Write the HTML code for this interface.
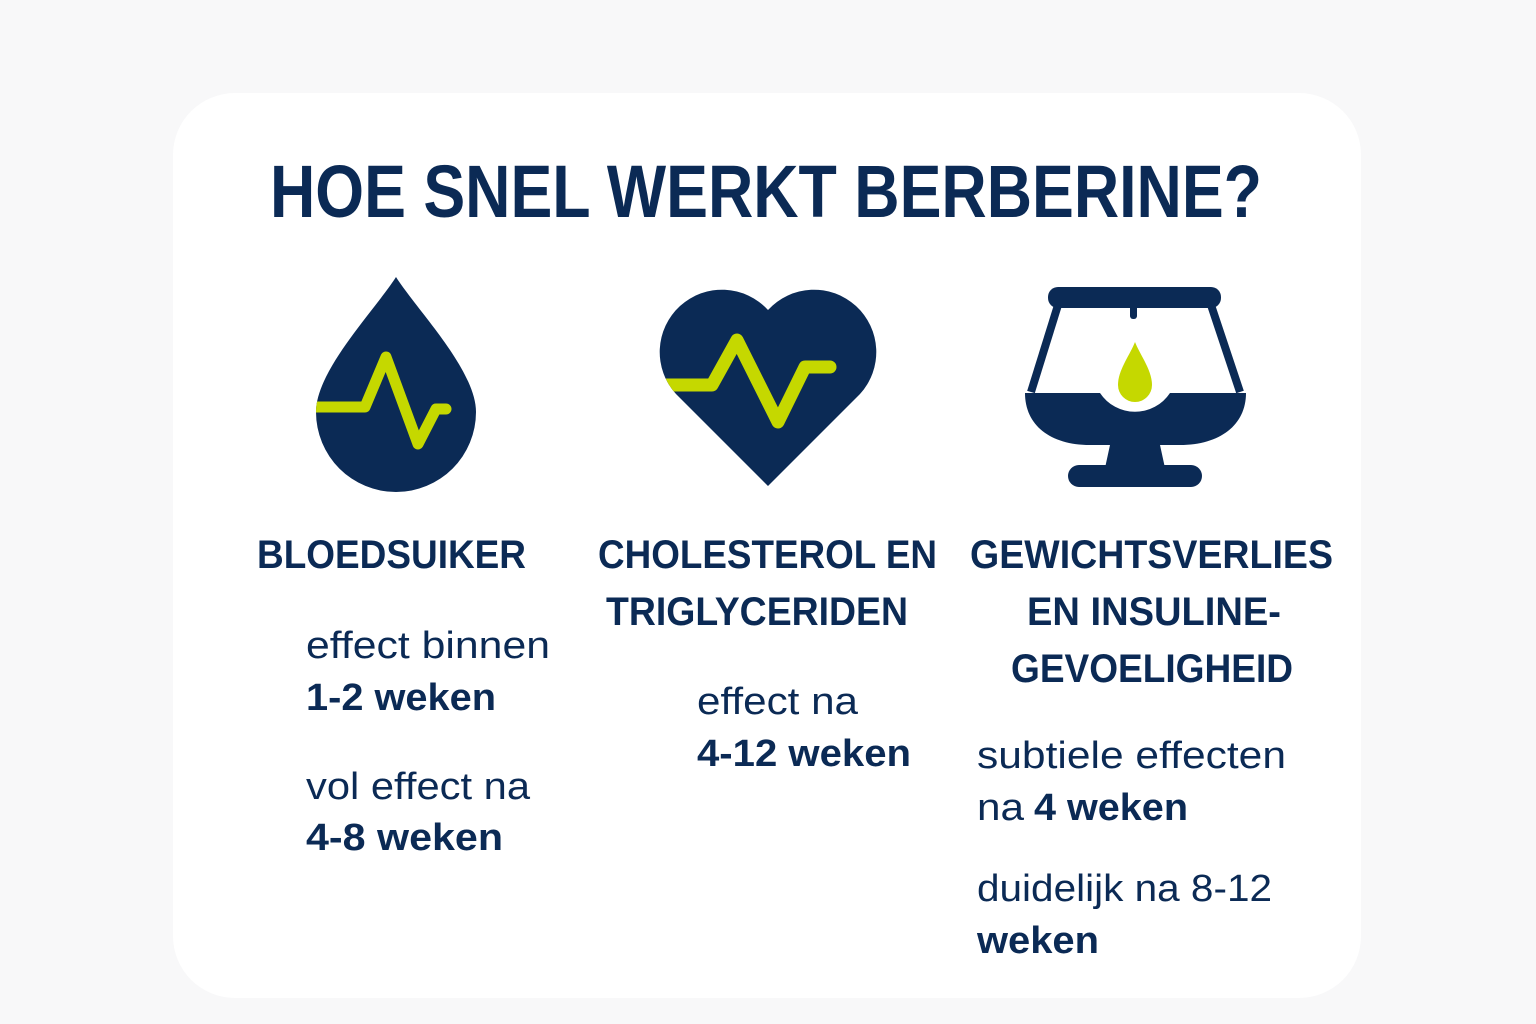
<!DOCTYPE html>
<html><head><meta charset="utf-8"><style>
html,body{margin:0;padding:0;background:#f8f8f9;}
svg{display:block}
text{font-family:"Liberation Sans",sans-serif;fill:#0b2a55}
</style></head><body>
<svg width="1536" height="1024" viewBox="0 0 1536 1024" xmlns="http://www.w3.org/2000/svg">
<defs>
<clipPath id="cd"><path d="M396 277 C 375 310, 316 370, 316 412 A 80 80 0 0 0 476 412 C 476 370, 417 310, 396 277 Z"/></clipPath>
<clipPath id="ch"><path d="M768 486 L 676 394 A 56 56 0 0 1 768 310 A 56 56 0 0 1 860 394 Z"/></clipPath>
</defs>
<rect x="0" y="0" width="1536" height="1024" fill="#f8f8f9"/>
<rect x="173" y="93" width="1188" height="905" rx="62" fill="#ffffff"/>
<text x="270" y="217" font-size="74" font-weight="bold" textLength="992" lengthAdjust="spacingAndGlyphs">HOE SNEL WERKT BERBERINE?</text>

<!-- drop -->
<path d="M396 277 C 375 310, 316 370, 316 412 A 80 80 0 0 0 476 412 C 476 370, 417 310, 396 277 Z" fill="#0b2a55"/>
<g clip-path="url(#cd)">
<polyline points="300,407 365,407 386,357 418,444 436,409 446,409" fill="none" stroke="#c5d800" stroke-width="11" stroke-linecap="round" stroke-linejoin="round"/>
</g>

<!-- heart -->
<path d="M768 486 L 676 394 A 56 56 0 0 1 768 310 A 56 56 0 0 1 860 394 Z" fill="#0b2a55"/>
<g clip-path="url(#ch)">
<polyline points="650,385 712,385 737,340 778,422 805,367 830,367" fill="none" stroke="#c5d800" stroke-width="13" stroke-linecap="round" stroke-linejoin="round"/>
</g>

<!-- scale -->
<rect x="1048" y="287" width="173" height="21" rx="10" fill="#0b2a55"/>
<rect x="1130" y="305" width="7" height="14" rx="3" fill="#0b2a55"/>
<line x1="1058" y1="305" x2="1031" y2="392" stroke="#0b2a55" stroke-width="8"/>
<line x1="1211" y1="305" x2="1240" y2="392" stroke="#0b2a55" stroke-width="8"/>
<path d="M1025 393 L1100 393 A 42 42 0 0 0 1170 393 L1246 393 C 1246 425, 1220 445, 1180 445 L 1160 445 L 1165 468 L 1105 468 L 1110 445 L 1090 445 C 1050 445, 1025 425, 1025 393 Z" fill="#0b2a55"/>
<rect x="1068" y="465" width="134" height="22" rx="11" fill="#0b2a55"/>
<path d="M1135 342 C 1130 355, 1118 370, 1118 385 A 17 17 0 0 0 1152 385 C 1152 370, 1140 355, 1135 342 Z" fill="#c5d800"/>

<!-- headings -->
<g font-size="40" font-weight="bold">
<text x="257" y="568" textLength="269" lengthAdjust="spacingAndGlyphs">BLOEDSUIKER</text>
<text x="598" y="568" textLength="339" lengthAdjust="spacingAndGlyphs">CHOLESTEROL EN</text>
<text x="606" y="625" textLength="302" lengthAdjust="spacingAndGlyphs">TRIGLYCERIDEN</text>
<text x="970" y="568" textLength="363" lengthAdjust="spacingAndGlyphs">GEWICHTSVERLIES</text>
<text x="1027" y="625" textLength="254" lengthAdjust="spacingAndGlyphs">EN INSULINE-</text>
<text x="1011" y="682" textLength="282" lengthAdjust="spacingAndGlyphs">GEVOELIGHEID</text>
</g>

<!-- body -->
<g font-size="38">
<text x="306" y="658" textLength="244" lengthAdjust="spacingAndGlyphs">effect binnen</text>
<text x="306" y="710" font-weight="bold" textLength="190" lengthAdjust="spacingAndGlyphs">1-2 weken</text>
<text x="306" y="799" textLength="224" lengthAdjust="spacingAndGlyphs">vol effect na</text>
<text x="306" y="850" font-weight="bold" textLength="197" lengthAdjust="spacingAndGlyphs">4-8 weken</text>
<text x="697" y="714" textLength="161" lengthAdjust="spacingAndGlyphs">effect na</text>
<text x="697" y="766" font-weight="bold" textLength="214" lengthAdjust="spacingAndGlyphs">4-12 weken</text>
<text x="977" y="768" textLength="309" lengthAdjust="spacingAndGlyphs">subtiele effecten</text>
<text x="977" y="820" textLength="47" lengthAdjust="spacingAndGlyphs">na</text>
<text x="1034" y="820" font-weight="bold" textLength="154" lengthAdjust="spacingAndGlyphs">4 weken</text>
<text x="977" y="901" textLength="295" lengthAdjust="spacingAndGlyphs">duidelijk na 8-12</text>
<text x="977" y="953" font-weight="bold" textLength="122" lengthAdjust="spacingAndGlyphs">weken</text>
</g>
</svg>
</body></html>
